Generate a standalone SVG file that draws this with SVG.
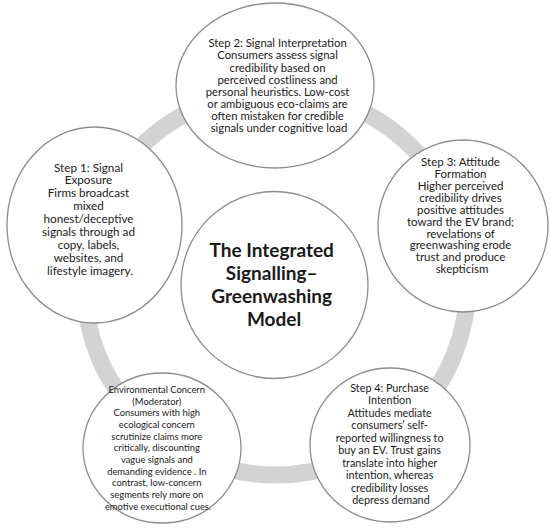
<svg xmlns="http://www.w3.org/2000/svg" width="550" height="529" viewBox="0 0 550 529">
<style>
.ring{fill:none;stroke:#d3d3d3;stroke-width:17}
.node{fill:#ffffff;stroke:#8c8c8c;stroke-width:1.3}
.t{font-family:Lato,"Open Sans","Liberation Sans",sans-serif;fill:#1a1a1a;text-anchor:middle}
.title{font-weight:bold}
</style>
<rect width="550" height="529" fill="#ffffff"/>
<g id="connectors">
<circle class="ring" cx="276" cy="283" r="192"/>
</g>
<g id="step2">
<ellipse class="node" cx="275" cy="85.5" rx="99" ry="82.5"/>
<text class="t" font-size="11.3">
<tspan x="279" y="47.3">Step 2: Signal Interpretation</tspan>
<tspan x="279" y="59.4">Consumers assess signal</tspan>
<tspan x="279" y="71.5">credibility based on</tspan>
<tspan x="279" y="83.6">perceived costliness and</tspan>
<tspan x="279" y="95.7">personal heuristics. Low-cost</tspan>
<tspan x="279" y="107.8">or ambiguous eco-claims are</tspan>
<tspan x="279" y="119.9">often mistaken for credible</tspan>
<tspan x="279" y="132">signals under cognitive load</tspan>
</text>
</g>
<g id="step1">
<ellipse class="node" cx="94.5" cy="225" rx="87.5" ry="98"/>
<text class="t" font-size="11.7">
<tspan x="90" y="171.5">Step 1: Signal</tspan>
<tspan x="90" y="184.4">Exposure</tspan>
<tspan x="90" y="197.3">Firms broadcast</tspan>
<tspan x="90" y="210.2">mixed</tspan>
<tspan x="90" y="223.1">honest/deceptive</tspan>
<tspan x="90" y="236">signals through ad</tspan>
<tspan x="90" y="248.9">copy, labels,</tspan>
<tspan x="90" y="261.8">websites, and</tspan>
<tspan x="90" y="274.7">lifestyle imagery.</tspan>
</text>
</g>
<g id="step3">
<ellipse class="node" cx="463" cy="226" rx="85" ry="86"/>
<text class="t" font-size="11.5">
<tspan x="462" y="165.7">Step 3: Attitude</tspan>
<tspan x="462" y="177.7">Formation</tspan>
<tspan x="462" y="189.6">Higher perceived</tspan>
<tspan x="462" y="201.6">credibility drives</tspan>
<tspan x="462" y="213.5">positive attitudes</tspan>
<tspan x="462" y="225.5">toward the EV brand;</tspan>
<tspan x="462" y="237.5">revelations of</tspan>
<tspan x="462" y="249.4">greenwashing erode</tspan>
<tspan x="462" y="261.4">trust and produce</tspan>
<tspan x="462" y="273.3">skepticism</tspan>
</text>
</g>
<g id="center">
<circle class="node" cx="274.5" cy="285" r="93.5"/>
<text class="t title" font-size="19">
<tspan x="274" y="257">The Integrated</tspan>
<tspan x="274" y="280">Signalling–</tspan>
<tspan x="274" y="303">Greenwashing</tspan>
<tspan x="274" y="326">Model</tspan>
</text>
</g>
<g id="env">
<ellipse class="node" cx="162" cy="448" rx="79" ry="75"/>
<text class="t" font-size="9.4">
<tspan x="158" y="393">Environmental Concern</tspan>
<tspan x="158" y="404.7">(Moderator)</tspan>
<tspan x="158" y="416.3">Consumers with high</tspan>
<tspan x="158" y="428">ecological concern</tspan>
<tspan x="158" y="439.7">scrutinize claims more</tspan>
<tspan x="158" y="451.4">critically, discounting</tspan>
<tspan x="158" y="463">vague signals and</tspan>
<tspan x="158" y="474.7">demanding evidence . In</tspan>
<tspan x="158" y="486.4">contrast, low-concern</tspan>
<tspan x="158" y="498">segments rely more on</tspan>
<tspan x="158" y="509.7">emotive executional cues.</tspan>
</text>
</g>
<g id="step4">
<ellipse class="node" cx="390" cy="445" rx="80" ry="77"/>
<text class="t" font-size="10.8">
<tspan x="391" y="391.7">Step 4: Purchase</tspan>
<tspan x="391" y="404.2">Intention</tspan>
<tspan x="391" y="416.7">Attitudes mediate</tspan>
<tspan x="391" y="429.2">consumers’ self-</tspan>
<tspan x="391" y="441.7">reported willingness to</tspan>
<tspan x="391" y="454.2">buy an EV. Trust gains</tspan>
<tspan x="391" y="466.7">translate into higher</tspan>
<tspan x="391" y="479.2">intention, whereas</tspan>
<tspan x="391" y="491.7">credibility losses</tspan>
<tspan x="391" y="504.2">depress demand</tspan>
</text>
</g>
</svg>
